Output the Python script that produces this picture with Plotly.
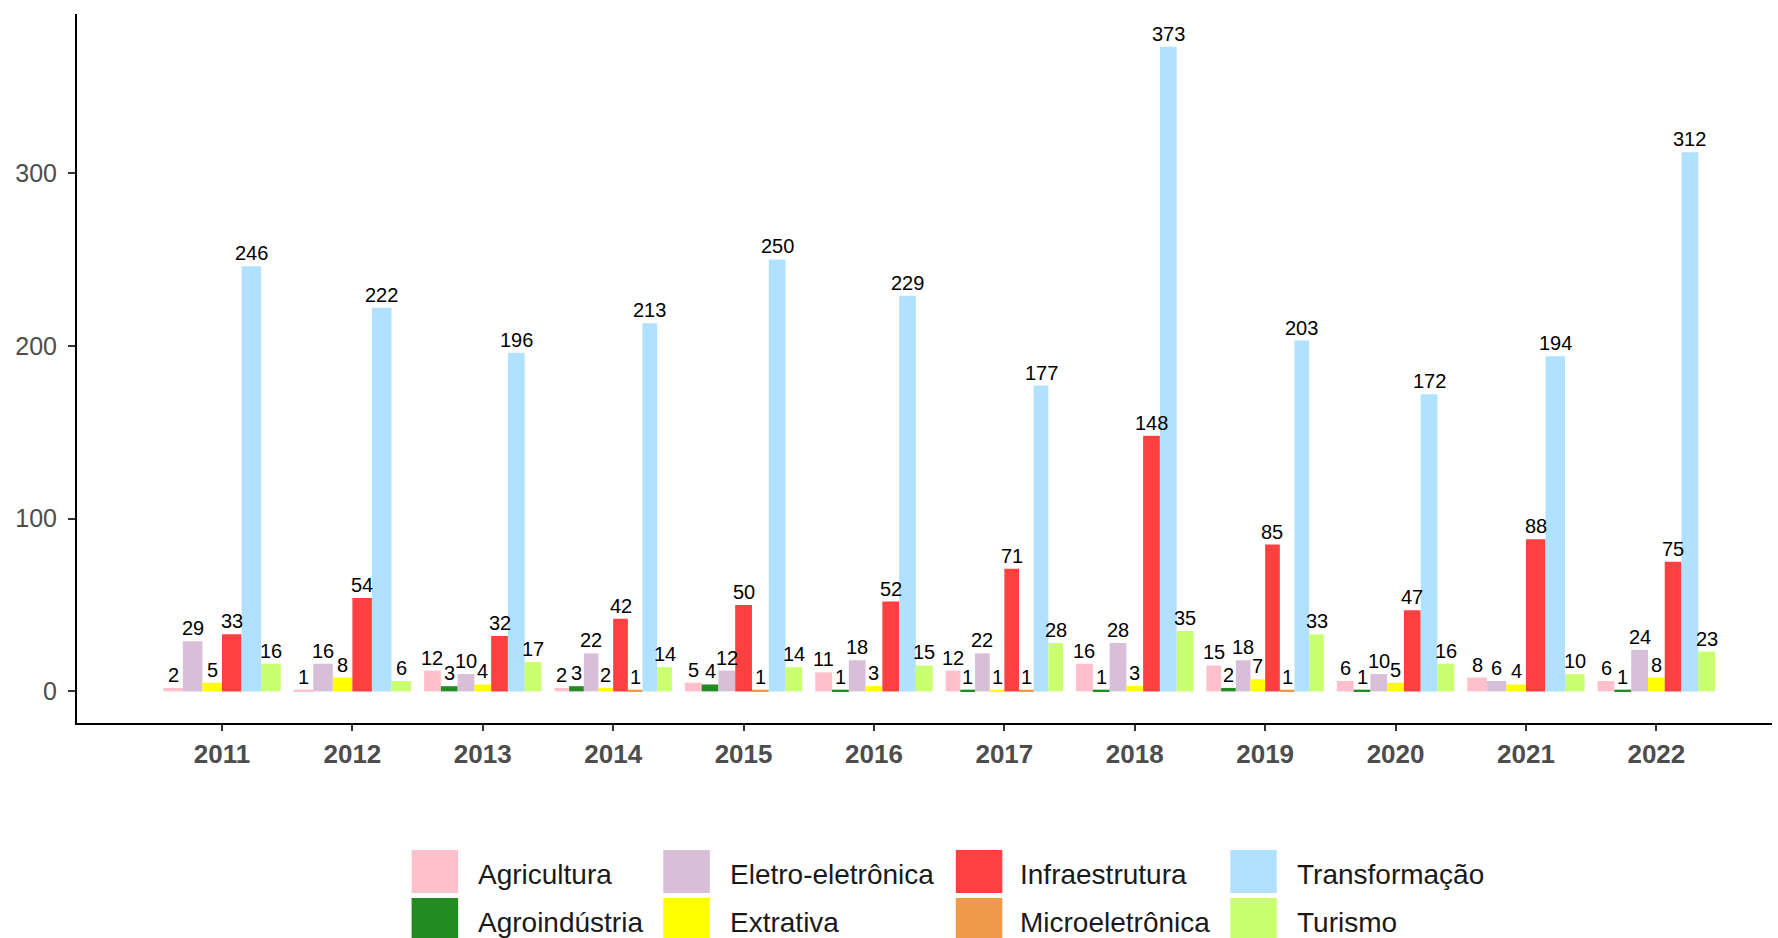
import plotly.graph_objects as go

years = ["2011", "2012", "2013", "2014", "2015", "2016",
         "2017", "2018", "2019", "2020", "2021", "2022"]
categories = ["Agricultura", "Agroindústria", "Eletro-eletrônica", "Extrativa",
              "Infraestrutura", "Microeletrônica", "Transformação", "Turismo"]
agricultura = [2, 1, 12, 2, 5, 11, 12, 16, 15, 6, 8, 6]
agroindustria = [0, 0, 3, 3, 4, 1, 1, 1, 2, 1, 0, 1]
eletro_eletronica = [29, 16, 10, 22, 12, 18, 22, 28, 18, 10, 6, 24]
extrativa = [5, 8, 4, 2, 0, 3, 1, 3, 7, 5, 4, 8]
infraestrutura = [33, 54, 32, 42, 50, 52, 71, 148, 85, 47, 88, 75]
microeletronica = [0, 0, 0, 1, 1, 0, 1, 0, 1, 0, 0, 0]
transformacao = [246, 222, 196, 213, 250, 229, 177, 373, 203, 172, 194, 312]
turismo = [16, 6, 17, 14, 14, 15, 28, 35, 33, 16, 10, 23]
y_ticks = [0, 100, 200, 300]

series = [agricultura, agroindustria, eletro_eletronica, extrativa,
          infraestrutura, microeletronica, transformacao, turismo]
colors = ["#FFC0CB", "#228B22", "#D8BFD8", "#FFFF00",
          "#FF4040", "#EE9A49", "#B0E2FF", "#CAFF70"]

FONT = "Liberation Sans, Arial, sans-serif"
W, H = 1778, 938
L, R, T, B = 77, 6, 14, 215
DODGE = 0.9

# ggplot-like dodge: bars present in a year share the 0.9 width
counts = [sum(1 for s in series if s[i] > 0) for i in range(len(years))]

fig = go.Figure()
labels = []
for ci, (name, vals, col) in enumerate(zip(categories, series, colors)):
    xs, ys, ws, offs = [], [], [], []
    for i, yr in enumerate(years):
        if vals[i] <= 0:
            continue
        k = sum(1 for s in series[:ci] if s[i] > 0)
        w = DODGE / counts[i]
        off = -DODGE / 2 + k * w
        xs.append(yr)
        ys.append(vals[i])
        ws.append(w)
        offs.append(off)
        labels.append((i + off + w / 2, vals[i]))
    fig.add_trace(go.Bar(
        x=xs, y=ys, width=ws, offset=offs, name=name,
        marker=dict(color=col, line=dict(width=0)),
        showlegend=False, hoverinfo="x+y+name",
    ))

# value labels drawn above every bar (on top of all traces)
for xpos, v in labels:
    fig.add_annotation(x=xpos, y=v, xref="x", yref="y", text=str(v),
                       showarrow=False, xanchor="center", yanchor="bottom",
                       yshift=1, borderpad=0,
                       font=dict(family=FONT, size=20, color="#000000"))

fig.update_layout(
    width=W, height=H, barmode="overlay",
    margin=dict(l=L, r=R, t=T, b=B, pad=0),
    paper_bgcolor="white", plot_bgcolor="white",
    font=dict(family=FONT, color="#4D4D4D"),
    xaxis=dict(
        type="category", categoryorder="array", categoryarray=years,
        range=[-1.112, 11.887], showline=True, linecolor="#000000", linewidth=2,
        ticks="outside", ticklen=6, tickwidth=2, tickcolor="#333333",
        tickfont=dict(family=FONT, size=26, color="#4D4D4D", weight="bold"),
        ticklabelstandoff=1, showgrid=False, zeroline=False,
    ),
    yaxis=dict(
        range=[-18.3, 392], tickvals=y_ticks, showline=True,
        linecolor="#000000", linewidth=2, ticks="outside", ticklen=7,
        tickwidth=2, tickcolor="#333333",
        tickfont=dict(family=FONT, size=25, color="#4D4D4D"),
        ticklabelstandoff=6, showgrid=False, zeroline=False,
    ),
)

# manual legend (2 rows x 4 columns, column-major order like ggplot)
plot_w = W - L - R
plot_h = H - T - B
def px_x(px):
    return (px - L) / plot_w
def px_y(py):
    return (H - B - py) / plot_h

key_x = [411.6, 663.3, 955.8, 1230.3]
text_x = [476, 728, 1018, 1295]
row_y = [850, 898]
key_w, key_h = 46.5, 43
for ci, (name, col) in enumerate(zip(categories, colors)):
    c, r = ci // 2, ci % 2
    fig.add_shape(type="rect", xref="paper", yref="paper",
                  x0=px_x(key_x[c]), x1=px_x(key_x[c] + key_w),
                  y0=px_y(row_y[r] + key_h), y1=px_y(row_y[r]),
                  fillcolor=col, line=dict(width=0), layer="above")
    fig.add_annotation(xref="paper", yref="paper",
                       x=px_x(text_x[c]), y=px_y(row_y[r] + key_h / 2 + 3),
                       text=name, showarrow=False, xanchor="left", yanchor="middle",
                       font=dict(family=FONT, size=28, color="#1A1A1A"))

fig.write_html("out.html", config={"displayModeBar": False},
               post_script="document.body.style.margin='0';document.body.style.overflow='hidden';")
